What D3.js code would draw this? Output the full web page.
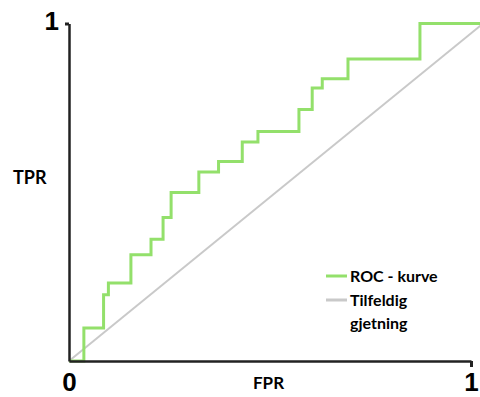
<!DOCTYPE html>
<html>
<head>
<meta charset="utf-8">
<script src="https://cdn.jsdelivr.net/npm/d3@7"></script>
<style>
  body { margin: 0; background: #fff; }
  svg { display: block; font-family: Lato, "Open Sans", sans-serif; }
</style>
</head>
<body>
<div id="chart"></div>
<script>
"use strict"
// ROC curve (FPR, TPR at each step corner)
var rocFpr = [0, 0.037, 0.086, 0.098, 0.154, 0.204, 0.234, 0.254, 0.323, 0.372, 0.431, 0.470, 0.572, 0.605, 0.630, 0.694, 0.873, 1.05];
var rocTpr = [0, 0.098, 0.196, 0.231, 0.315, 0.361, 0.425, 0.499, 0.560, 0.591, 0.649, 0.680, 0.745, 0.809, 0.836, 0.895, 1.0, 1.0];
// random guess line
var randFpr = [0, 1.03];
var randTpr = [0, 1];
var legendLabels = [["ROC - kurve"], ["Tilfeldig", "gjetning"]];

var width = 480, height = 397;
var rocColor = "#93e06b", randColor = "#c9c9c9";

var svg = d3.select("#chart").append("svg")
    .attr("width", width)
    .attr("height", height)
    .style("overflow", "hidden");

var xScale = d3.scaleLinear().domain([0, 1]).range([69, 471]);
var yScale = d3.scaleLinear().domain([0, 1]).range([361, 23.5]);

var line = d3.line()
    .x(function(d) {return xScale(d[0])})
    .y(function(d) {return yScale(d[1])});

var rocData = rocFpr.map(function(d, i) {return [d, rocTpr[i]]});
var randData = randFpr.map(function(d, i) {return [d, randTpr[i]]});

// diagonal first, then the ROC curve on top
svg.append("path")
    .datum(randData)
    .attr("d", line)
    .attr("fill", "none")
    .attr("stroke", randColor)
    .attr("stroke-width", 2);

svg.append("path")
    .datum(rocData)
    .attr("d", line.curve(d3.curveStepAfter))
    .attr("fill", "none")
    .attr("stroke", rocColor)
    .attr("stroke-width", 3);

// axes
var yAxis = d3.axisLeft(yScale).tickValues([1]).tickFormat(d3.format("d")).tickSize(4).tickSizeOuter(0).tickPadding(6);
var xAxis = d3.axisBottom(xScale).tickValues([0, 1]).tickFormat(d3.format("d")).tickSize(6).tickSizeOuter(0).tickPadding(6);

var gy = svg.append("g").attr("transform", "translate(" + xScale(0) + ",0)").call(yAxis);
var gx = svg.append("g").attr("transform", "translate(0," + yScale(0) + ")").call(xAxis);

[gx, gy].forEach(function(g) {
    g.select(".domain").attr("stroke", "#222").attr("stroke-width", 2.5);
    g.selectAll(".tick line").attr("stroke", "#222").attr("stroke-width", 3);
    g.selectAll(".tick text")
        .attr("fill", "#000")
        .style("font-size", "26px")
        .style("font-weight", "bold");
});
gy.select(".tick text").attr("dy", "0.22em");
gx.selectAll(".tick").filter(function(d) {return d === 0}).select("line").remove();

// axis titles
svg.append("text")
    .attr("x", 13).attr("y", 184)
    .style("font-size", "18px").style("font-weight", "bold")
    .text("TPR");

svg.append("text")
    .attr("x", 253).attr("y", 389)
    .style("font-size", "17px").style("font-weight", "bold")
    .text("FPR");

// legend
var legend = svg.append("g").attr("transform", "translate(326,276)");
var colors = [rocColor, randColor];
legendLabels.forEach(function(lines, i) {
    var y0 = i * 24;
    legend.append("line")
        .attr("x1", 0).attr("x2", 21)
        .attr("y1", y0).attr("y2", y0)
        .attr("stroke", colors[i]).attr("stroke-width", 3);
    lines.forEach(function(t, j) {
        legend.append("text")
            .attr("x", 24).attr("y", y0 + 6 + j * 23)
            .style("font-size", "16px").style("font-weight", "bold")
            .text(t);
    });
});
</script>
</body>
</html>
